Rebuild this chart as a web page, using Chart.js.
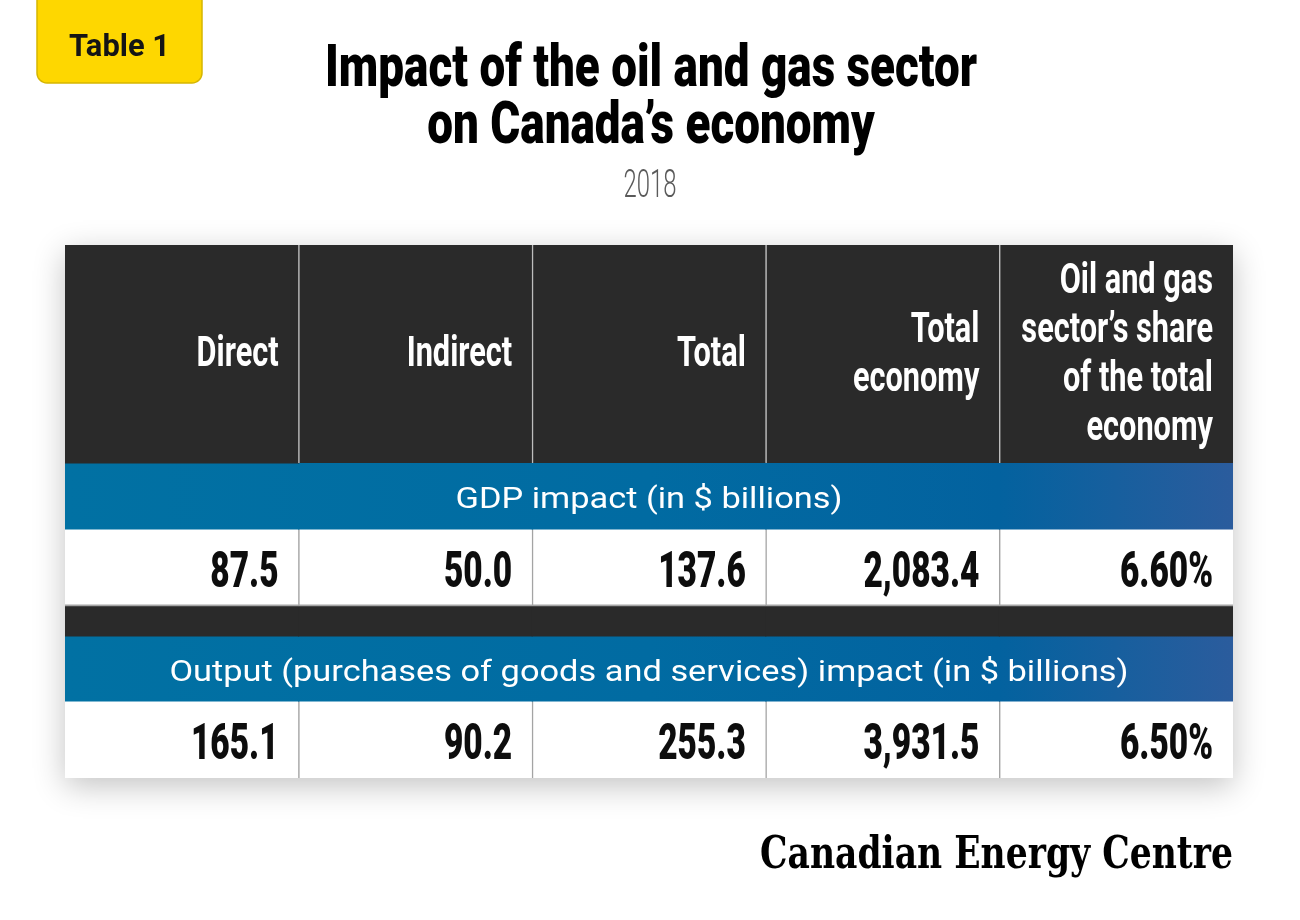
<!DOCTYPE html>
<html lang="en">
<head>
<meta charset="UTF-8">
<title>Impact of the oil and gas sector on Canada's economy</title>
<script src="https://cdn.jsdelivr.net/npm/chart.js"></script>
<style>
    body { margin: 0; background: #fff; }
    #wrap { width: 1300px; height: 920px; position: relative; }
</style>
</head>
<body>
<div id="wrap"><canvas id="tableChart"></canvas></div>
<script>
const columns = ['Direct', 'Indirect', 'Total', 'Total economy', 'Share of total economy'];
const headerLines = [
    ['Direct'],
    ['Indirect'],
    ['Total'],
    ['Total', 'economy'],
    ['Oil and gas', 'sector’s share', 'of the total', 'economy']
];
const sectionTitles = [
    'GDP impact (in $ billions)',
    'Output (purchases of goods and services) impact (in $ billions)'
];
const gdpValues = [87.5, 50.0, 137.6, 2083.4, 6.60];
const outputValues = [165.1, 90.2, 255.3, 3931.5, 6.50];

const chartTitle = ['Impact of the oil and gas sector', 'on Canada’s economy'];
const chartYear = '2018';
const badgeText = 'Table 1';
const sourceText = 'Canadian Energy Centre';

// row layout, top to bottom (pixel heights on the y scale)
const rowKinds = ['header', 'band', 'values', 'gap', 'band', 'values'];
const rowHeights = [218, 66, 77, 30, 65, 77];
const rowEdges = [0];
rowHeights.forEach(h => rowEdges.push(rowEdges[rowEdges.length - 1] + h));
const rowValues = { 2: gdpValues, 5: outputValues };
const rowSection = { 1: 0, 4: 1 };

function fmt(v, i) {
    if (i === columns.length - 1) return v.toFixed(2) + '%';
    return v.toLocaleString('en-US', { minimumFractionDigits: 1, maximumFractionDigits: 1 });
}

function bandFill(context) {
    const chart = context.chart;
    const a = chart.chartArea;
    if (!a) return '#006ca2';
    const g = chart.ctx.createLinearGradient(a.left, 0, a.right, 0);
    g.addColorStop(0, '#0171a3');
    g.addColorStop(0.5, '#016ba2');
    g.addColorStop(0.8, '#03629f');
    g.addColorStop(1, '#2b5c9d');
    return g;
}

const fills = { header: '#2a2a2a', band: bandFill, values: '#ffffff', gap: '#2a2a2a' };
const lines = { header: '#bdbdbd', band: 'rgba(0,0,0,0)', values: '#a4a4a4', gap: 'rgba(0,0,0,0)' };

const datasets = rowKinds.map((kind, r) => ({
    label: kind + r,
    data: columns.map(() => [rowEdges[r], rowEdges[r + 1]]),
    backgroundColor: fills[kind],
    borderColor: lines[kind],
    borderWidth: ctx => ({
        left: (kind === 'header' || kind === 'values') && ctx.dataIndex > 0 ? 1.5 : 0,
        bottom: r === 2 ? 2 : 0
    }),
    borderSkipped: false,
    grouped: false,
    barPercentage: 1,
    categoryPercentage: 1,
    inflateAmount: 0.5
}));

// draw text squeezed horizontally
function squeeze(ctx, text, x, y, sx, align) {
    ctx.save();
    ctx.translate(x, y);
    ctx.scale(sx, 1);
    ctx.textAlign = align;
    ctx.textBaseline = 'alphabetic';
    ctx.fillText(text, 0, 0);
    ctx.restore();
}

const tablePlugin = {
    id: 'tablePlugin',
    beforeDatasetsDraw(chart) {
        const { ctx, chartArea: a } = chart;
        ctx.save();
        ctx.shadowColor = 'rgba(0,0,0,0.24)';
        ctx.shadowBlur = 30;
        ctx.shadowOffsetY = 8;
        ctx.fillStyle = '#fff';
        ctx.fillRect(a.left, a.top, a.width, a.height);
        ctx.restore();
    },
    afterDatasetsDraw(chart) {
        const { ctx, scales: { x, y } } = chart;
        const half = (x.getPixelForValue(1) - x.getPixelForValue(0)) / 2;
        const right = i => x.getPixelForValue(i) + half - 20;
        const mid = r => y.getPixelForValue((rowEdges[r] + rowEdges[r + 1]) / 2);
        const centerX = x.getPixelForValue(2);

        ctx.save();
        // column headers
        ctx.fillStyle = '#ffffff';
        ctx.font = 'bold 42px Roboto';
        const hsx = 82 / ctx.measureText('Direct').width;
        headerLines.forEach((ls, i) => {
            const base = mid(0) + 12 - (ls.length - 1) * 49 / 2;
            ls.forEach((t, k) => squeeze(ctx, t, right(i), base + k * 49, hsx, 'right'));
        });

        // section bands
        ctx.font = '29px Roboto';
        const bsx = 387 / ctx.measureText(sectionTitles[0]).width;
        Object.keys(rowSection).forEach(r => {
            squeeze(ctx, sectionTitles[rowSection[r]], centerX, mid(+r) + 12, bsx, 'center');
        });

        // values
        ctx.fillStyle = '#0d0d0d';
        ctx.font = '900 50px Roboto';
        const vsx = 116 / ctx.measureText('2,083.4').width;
        Object.keys(rowValues).forEach(r => {
            rowValues[r].forEach((v, i) => squeeze(ctx, fmt(v, i), right(i), mid(+r) + 19, vsx, 'right'));
        });
        ctx.restore();
    },
    afterDraw(chart) {
        const ctx = chart.ctx;
        ctx.save();

        // badge
        ctx.fillStyle = '#fed700';
        ctx.strokeStyle = '#d6b600';
        ctx.lineWidth = 1.5;
        ctx.beginPath();
        ctx.moveTo(37, -2);
        ctx.lineTo(37, 73);
        ctx.arcTo(37, 83, 47, 83, 10);
        ctx.lineTo(192, 83);
        ctx.arcTo(202, 83, 202, 73, 10);
        ctx.lineTo(202, -2);
        ctx.closePath();
        ctx.fill();
        ctx.stroke();
        ctx.fillStyle = '#151515';
        ctx.font = 'bold 31px Roboto';
        squeeze(ctx, badgeText, 119.5, 56, 101 / ctx.measureText(badgeText).width, 'center');

        // title
        ctx.fillStyle = '#000';
        ctx.font = '900 60px Roboto';
        const tsx = 652 / ctx.measureText(chartTitle[0]).width;
        squeeze(ctx, chartTitle[0], 651, 86, tsx, 'center');
        squeeze(ctx, chartTitle[1], 651, 143, tsx, 'center');

        // year
        ctx.fillStyle = '#5a5a5a';
        ctx.font = '300 38px Roboto';
        squeeze(ctx, chartYear, 650, 197, 53 / ctx.measureText(chartYear).width, 'center');

        // source
        ctx.fillStyle = '#000';
        ctx.font = 'bold 44px "DejaVu Serif"';
        squeeze(ctx, sourceText, 1233, 868, 473 / ctx.measureText(sourceText).width, 'right');
        ctx.restore();
    }
};

new Chart(document.getElementById('tableChart'), {
    type: 'bar',
    data: { labels: columns, datasets: datasets },
    options: {
        responsive: true,
        maintainAspectRatio: false,
        animation: false,
        events: [],
        layout: { padding: { left: 65, right: 67, top: 245, bottom: 142 } },
        plugins: { legend: { display: false }, tooltip: { enabled: false }, title: { display: false } },
        scales: {
            x: { type: 'category', offset: true, display: false, grid: { display: false } },
            y: { type: 'linear', min: 0, max: rowEdges[rowEdges.length - 1], reverse: true, display: false }
        }
    },
    plugins: [tablePlugin]
});
</script>
</body>
</html>
